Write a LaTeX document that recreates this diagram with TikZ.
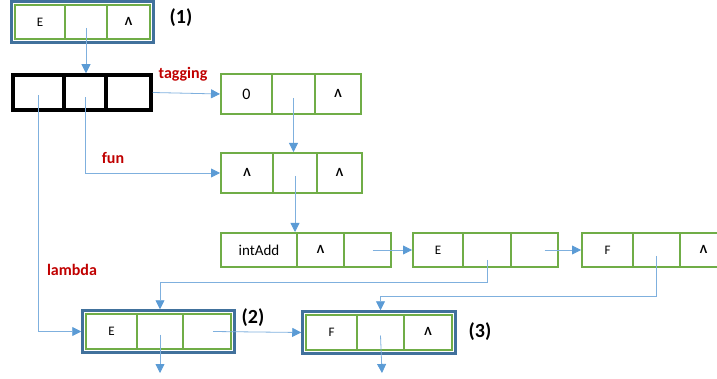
\documentclass[tikz,border=0pt]{standalone}
\usepackage{fontspec}
\setmainfont{Carlito}
\usetikzlibrary{arrows.meta,fit}
\definecolor{cgreen}{HTML}{70AD47}
\definecolor{cframe}{HTML}{41719C}
\definecolor{carrow}{HTML}{5B9BD5}
\definecolor{cline}{HTML}{7FB0DE}
\definecolor{cred}{HTML}{C00000}
\newcommand\cellbox[7][cell]{\node[#1, minimum width={#4-#3}, minimum height={#6-#5}] (#2) at ({(#3+#4)/2},{(#5+#6)/2}) {#7};}
\newcommand\caret{\raisebox{1.5pt}{\bfseries\fontsize{12.5}{13}\selectfont Λ}}
\begin{document}
\begin{tikzpicture}[x=1pt,y=-1pt,
  cell/.style={draw=cgreen, line width=2pt, inner sep=0pt, font=\fontsize{13}{14}\selectfont},
  bigcell/.style={cell, font=\fontsize{16}{17}\selectfont},
  midcell/.style={cell, font=\fontsize{15}{16}\selectfont},
  blkcell/.style={draw=black, line width=3.5pt, inner sep=0pt},
  frame/.style={draw=cframe, line width=2.5pt, inner sep=2.5pt},
  link/.style={draw=cline, line width=0.8pt, -{Triangle[length=9pt,width=9pt,color=carrow]}},
  tag/.style={text=cred, font=\bfseries\fontsize{16}{17}\selectfont},
  num/.style={font=\bfseries\fontsize{20}{22}\selectfont}]
\useasboundingbox (0,0) rectangle (717,379);
% box (1)
\cellbox{b1a}{15}{65}{5}{39}{E}
\cellbox{b1b}{65}{107}{5}{39}{}
\cellbox{b1c}{107}{150}{5}{39}{\caret}
\node[frame, fit=(b1a)(b1c)] (f1) {};
\node[num] (n1) at (181,18) {(1)};
% black box
\cellbox[blkcell]{ka}{13}{64}{75}{110}{}
\cellbox[blkcell]{kb}{64}{106}{75}{110}{}
\cellbox[blkcell]{kc}{106}{151}{75}{110}{}
% box 0
\cellbox[bigcell]{za}{221}{272}{74}{114}{0}
\cellbox{zb}{272}{315}{74}{114}{}
\cellbox{zc}{315}{361}{74}{114}{\caret}
% box ^ ^
\cellbox{ha}{221}{273}{153}{193}{\caret}
\cellbox{hb}{273}{317}{153}{193}{}
\cellbox{hc}{317}{362}{153}{193}{\caret}
% intAdd
\cellbox[midcell]{ia}{221}{297}{233}{267}{intAdd}
\cellbox{ib}{297}{344}{233}{267}{\caret}
\cellbox{ic}{344}{391}{233}{267}{}
% E
\cellbox{ea}{413}{463}{233}{267}{E}
\cellbox{eb}{463}{511}{233}{267}{}
\cellbox{ec}{511}{558}{233}{267}{}
% F
\cellbox{fa}{582}{633}{233}{267}{F}
\cellbox{fb}{633}{680}{233}{267}{}
\cellbox{fc}{680}{727}{233}{267}{\caret}
% box (2)
\cellbox{ta}{86}{137}{314}{349}{E}
\cellbox{tb}{137}{183}{314}{349}{}
\cellbox{tc}{183}{231}{314}{349}{}
\node[frame, fit=(ta)(tc)] (f2) {};
\node[num] (n2) at (253,318) {(2)};
% box (3)
\cellbox{ua}{306}{357}{315}{350}{F}
\cellbox{ub}{357}{404}{315}{350}{}
\cellbox{uc}{404}{452}{315}{350}{\caret}
\node[frame, fit=(ua)(uc)] (f3) {};
\node[num] (n3) at (480,332) {(3)};
% labels
\node[tag] (ltag) at (183,74) {tagging};
\node[tag] (lfun) at (113,158) {fun};
\node[tag] (llam) at (72,270) {lambda};
% free ends
\coordinate (d2) at (160,373);
\coordinate (d3) at (382,373);
% connectors
\draw[link] ([yshift=-6pt]b1b.center) -- (b1b.center |- kb.north);
\draw[link] (kc.east) -- (za.west);
\draw[link] ([yshift=-5pt]kb.center) |- (ha.west);
\draw[link] ([yshift=-3pt]ka.center) |- (f2.west);
\draw[link] ([yshift=-4pt]zb.center) -- (zb.center |- hb.north);
\draw[link] ([yshift=-3pt]hb.center) -- (hb.center |- ia.north);
\draw[link] ([xshift=5pt]ic.center) -- (ea.west);
\draw[link] ([xshift=10pt]ec.center) -- (fa.west);
\draw[link] ([yshift=-10pt]eb.center) -- (eb.center |- 0,282) -| (tb.center |- f2.north);
\draw[link] ([yshift=-6pt]fb.center) -- (fb.center |- 0,296) -| (ub.center |- f3.north);
\draw[link] ([xshift=6pt]tc.center) -- (f3.west);
\draw[link] ([yshift=-3pt]tb.center) -- (d2);
\draw[link] ([yshift=-3pt]ub.center) -- (d3);
\end{tikzpicture}
\end{document}
